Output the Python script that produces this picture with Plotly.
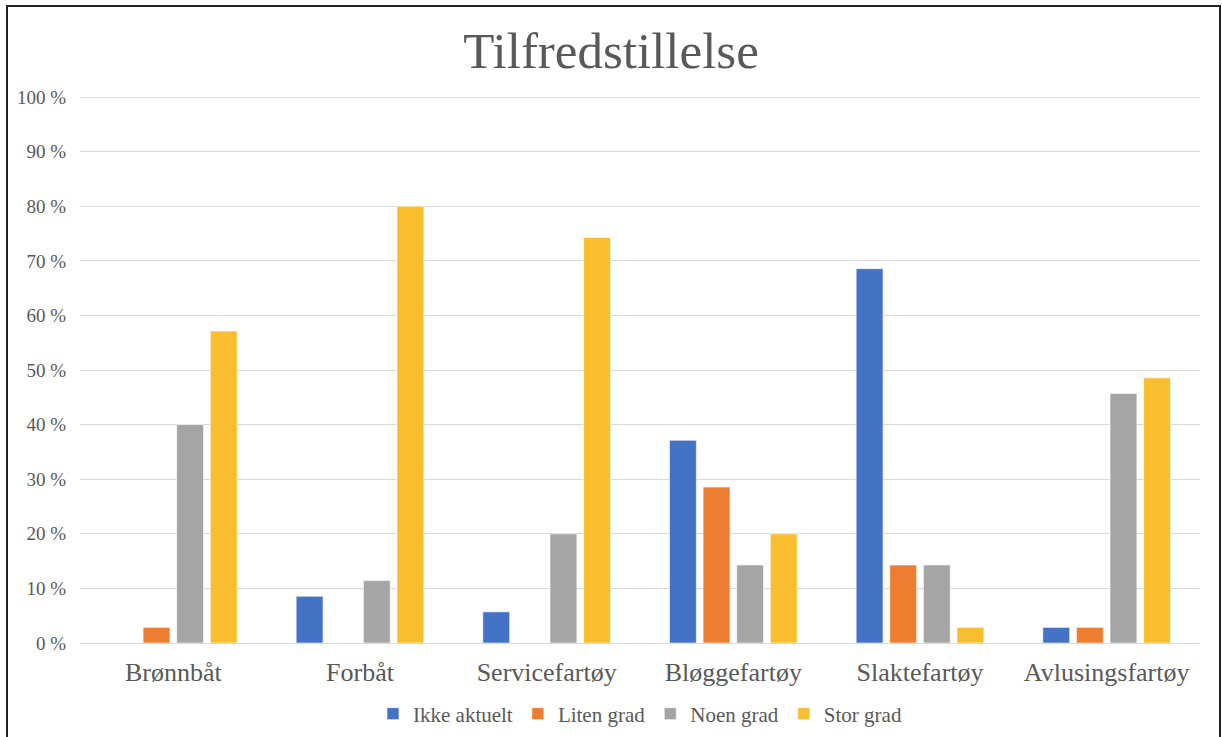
import plotly.graph_objects as go

categories = ["Brønnbåt", "Forbåt", "Servicefartøy", "Bløggefartøy", "Slaktefartøy", "Avlusingsfartøy"]
series_names = ["Ikke aktuelt", "Liten grad", "Noen grad", "Stor grad"]
ikke_aktuelt = [0.0, 8.57, 5.71, 37.14, 68.57, 2.86]
liten_grad = [2.86, 0.0, 0.0, 28.57, 14.29, 2.86]
noen_grad = [40.0, 11.43, 20.0, 14.29, 14.29, 45.71]
stor_grad = [57.14, 80.0, 74.29, 20.0, 2.86, 48.57]
colors = ["#4472C4", "#ED7D31", "#A5A5A5", "#F9BE2F"]
tick_vals = [0, 10, 20, 30, 40, 50, 60, 70, 80, 90, 100]
tick_text = ["0 %", "10 %", "20 %", "30 %", "40 %", "50 %", "60 %", "70 %", "80 %", "90 %", "100 %"]

serif = "Liberation Serif, Times New Roman, serif"
txt = "#595959"

fig = go.Figure()
for name, vals, c in zip(series_names, [ikke_aktuelt, liten_grad, noen_grad, stor_grad], colors):
    fig.add_trace(go.Bar(
        x=categories, y=vals, name=name,
        marker=dict(color=c, line=dict(color="rgba(255,255,255,0.6)", width=1)),
    ))

top_px = 96
bot_px = 643
fig.update_layout(
    width=1222, height=737,
    paper_bgcolor="white", plot_bgcolor="white",
    margin=dict(l=80, r=22, t=top_px, b=737 - bot_px, autoexpand=False),
    barmode="group", bargap=0.28, bargroupgap=0.2,
    title=dict(text="Tilfredstillelse", x=0.5, xanchor="center", y=1 - 50 / 737, yanchor="middle",
               font=dict(family=serif, size=51, color=txt)),
    showlegend=True,
    legend=dict(orientation="h", x=0.5, xanchor="center", y=-(714 - bot_px) / (bot_px - top_px), yanchor="middle",
                font=dict(family=serif, size=21, color=txt), itemwidth=30,
                traceorder="normal"),
    xaxis=dict(showgrid=False, showline=True, linecolor="#d9d9d9", linewidth=1,
               tickfont=dict(family=serif, size=26, color=txt), ticks="", ticklabelstandoff=6),
    yaxis=dict(range=[0, 100.2], tickvals=tick_vals, ticktext=tick_text, showgrid=True,
               gridcolor="#d9d9d9", gridwidth=1, zeroline=False, showline=False,
               tickfont=dict(family=serif, size=19, color=txt), ticks="", ticklabelstandoff=13),
    shapes=[dict(type="rect", xref="paper", yref="paper",
                 x0=(7 - 80) / 1120, x1=(1220 - 80) / 1120,
                 y0=(bot_px - 760) / (bot_px - top_px), y1=(bot_px - 6) / (bot_px - top_px),
                 line=dict(color="#222222", width=2), fillcolor="rgba(0,0,0,0)", layer="above")],
)

fig.write_html("out.html")
